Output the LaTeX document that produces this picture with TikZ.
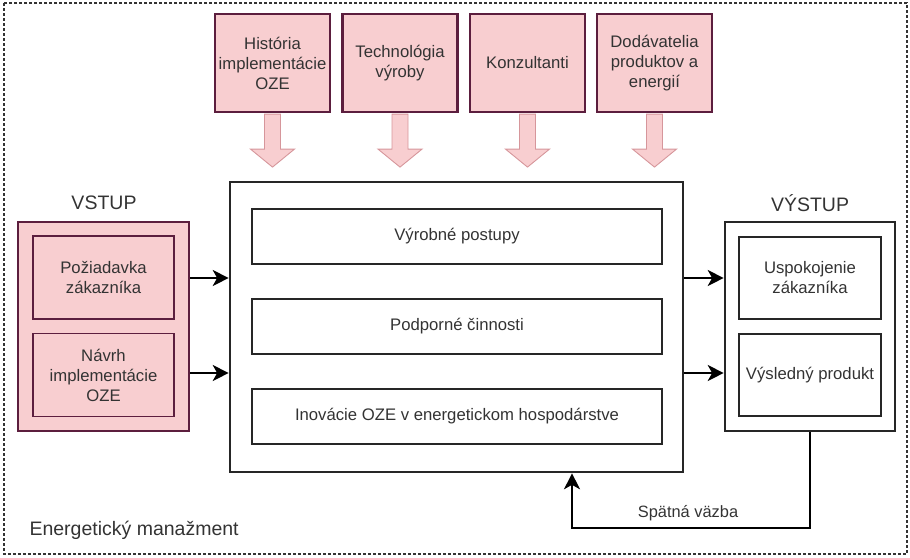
\documentclass[tikz,border=0pt]{standalone}
\usepackage{fontspec}
\setmainfont{Liberation Sans}
\usetikzlibrary{arrows.meta}
\definecolor{pinkfill}{RGB}{248,206,208}
\definecolor{maroon}{RGB}{92,30,62}
\definecolor{arrowedge}{RGB}{214,150,155}
\definecolor{txt}{RGB}{51,51,51}
\tikzset{
  box/.style={draw, rectangle, inner sep=0pt, align=center, text=txt,
    font=\fontsize{16.7}{20}\selectfont},
  pinkbox/.style={box, draw=maroon, fill=pinkfill, line width=2.2pt},
  pinkinner/.style={box, draw=maroon, fill=pinkfill, line width=1.3pt},
  plainbox/.style={box, draw=black!85, line width=1.3pt},
  bigbox/.style={box, draw=black!85, line width=2.6pt},
  blockarrow/.style={draw=arrowedge, fill=pinkfill, line width=0.9pt, line join=miter},
  flow/.style={draw=black, line width=2pt,
    -{Stealth[length=16pt, width=16pt, inset=4.5pt]}},
  heading/.style={text=txt, font=\fontsize{19.5}{22}\selectfont},
}
\begin{document}
\begin{tikzpicture}[x=1pt, y=-1pt]
\useasboundingbox (0,0) rectangle (910,557);
% surrounding system boundary
\draw[black!80, line width=1.3pt, dash pattern=on 3pt off 2pt] (4,3) rectangle (907,554);
\node[heading, anchor=west] (em) at (26,530) {Energetický manažment};

% resources on top
\node[pinkbox, minimum width=115pt, minimum height=98pt] (t1) at (272.5,63) {História\\implementácie\\OZE};
\node[pinkbox, minimum width=115pt, minimum height=98pt] (t2) at (400,63) {Technológia\\výroby};
\node[pinkbox, minimum width=115pt, minimum height=98pt] (t3) at (527.5,63) {Konzultanti};
\node[pinkbox, minimum width=115pt, minimum height=98pt] (t4) at (654.5,63) {Dodávatelia\\produktov a\\energií};
\foreach \t in {t1,t2,t3,t4}{
  \draw[blockarrow] (\t.south) ++(-8,1) -- ++(0,35) -- ++(-14,0) -- ++(22,18)
    -- ++(22,-18) -- ++(-14,0) -- ++(0,-35) -- cycle;
}

% process
\node[bigbox, minimum width=453pt, minimum height=290pt] (main) at (456.5,327) {};
\node[plainbox, minimum width=410pt, minimum height=55pt] (p1) at (457,236.5) {Výrobné postupy};
\node[plainbox, minimum width=410pt, minimum height=55pt] (p2) at (457,326.5) {Podporné činnosti};
\node[plainbox, minimum width=410pt, minimum height=55pt] (p3) at (457,416.5) {Inovácie OZE v energetickom hospodárstve};

% input
\node[heading] (vsl) at (104,203) {VSTUP};
\node[pinkbox, minimum width=171pt, minimum height=209pt] (vin) at (103.5,326.5) {};
\node[pinkinner, minimum width=141pt, minimum height=83pt] (i1) at (103.5,277.5) {Požiadavka\\zákazníka};
\node[pinkinner, minimum width=141pt, minimum height=83pt] (i2) at (103.5,375) {Návrh\\implementácie\\OZE};

% output
\node[heading] (vyl) at (810,203) {VÝSTUP};
\node[bigbox, minimum width=170pt, minimum height=209pt] (vout) at (810,326.5) {};
\node[plainbox, minimum width=142pt, minimum height=82pt] (o1) at (810,278) {Uspokojenie\\zákazníka};
\node[plainbox, minimum width=142pt, minimum height=82pt] (o2) at (810,375) {Výsledný produkt};

% flows
\coordinate (a1) at (0,278);
\coordinate (a2) at (0,373);
\draw[flow] (a1 -| vin.east) -- (a1 -| main.west);
\draw[flow] (a2 -| vin.east) -- (a2 -| main.west);
\draw[flow] (a1 -| main.east) -- (a1 -| vout.west);
\draw[flow] (a2 -| main.east) -- (a2 -| vout.west);

% feedback loop
\coordinate (fb) at (572,528);
\draw[flow] (vout.south) |- (fb) -- (fb |- main.south);
\node[text=txt, font=\fontsize{16.4}{19}\selectfont] (fbl) at (688,513) {Spätná väzba};
\end{tikzpicture}
\end{document}
